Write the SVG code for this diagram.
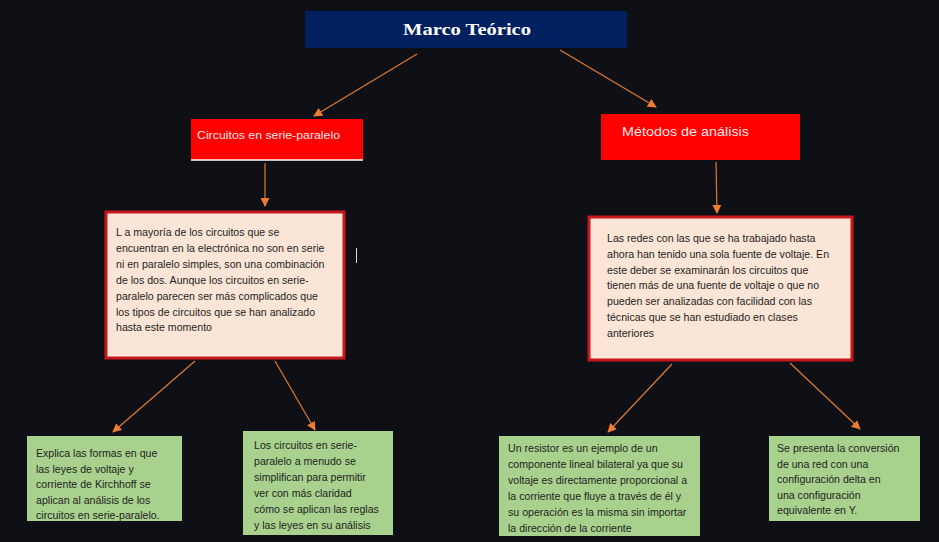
<svg xmlns="http://www.w3.org/2000/svg" width="939" height="542" viewBox="0 0 939 542">
<defs>
<marker id="ah" viewBox="0 0 10 10" refX="9" refY="5" markerWidth="9" markerHeight="9" markerUnits="userSpaceOnUse" orient="auto">
<path d="M0,0 L10,5 L0,10 z" fill="#ed7d31"/>
</marker>
<style>
.conn line{stroke:#e07a30;stroke-width:1.2;marker-end:url(#ah)}
.hdr{fill:#ff0000}
.peach{fill:#fbe5d6;stroke:#c8161d;stroke-width:3}
.green{fill:#a9d18e}
.t{font-family:"Liberation Sans",Arial,sans-serif;font-size:10.6px;fill:#1e1e1e}
.ht{font-family:"Liberation Sans",Arial,sans-serif;fill:#ffe6e6}
</style>
</defs>
<rect width="939" height="542" fill="#0e1016"/>
<g id="title">
<rect x="305" y="11" width="322" height="37" fill="#002060"/>
<text x="467" y="35" text-anchor="middle" font-family="'Liberation Serif',serif" font-weight="bold" font-size="17" fill="#ffffff" textLength="128" lengthAdjust="spacingAndGlyphs">Marco Teórico</text>
</g>
<g id="circuitos">
<rect class="hdr" x="191" y="119" width="172" height="41"/>
<line x1="191" y1="160" x2="363" y2="160" stroke="#ffffff" stroke-width="1.5"/>
<text class="ht" x="197" y="139" font-size="11.5" textLength="143" lengthAdjust="spacingAndGlyphs">Circuitos en serie-paralelo</text>
</g>
<g id="metodos">
<rect class="hdr" x="601" y="114" width="199" height="46"/>
<text class="ht" x="622" y="136" font-size="13.5" textLength="127" lengthAdjust="spacingAndGlyphs">Métodos de análisis</text>
</g>
<g id="desc-left">
<rect class="peach" x="106" y="212" width="238" height="146"/>
<text class="t" x="116" y="236">
<tspan x="116" dy="0">L a mayoría de los circuitos que se</tspan>
<tspan x="116" dy="15.9">encuentran en la electrónica no son en serie</tspan>
<tspan x="116" dy="15.9">ni en paralelo simples, son una combinación</tspan>
<tspan x="116" dy="15.9">de los dos. Aunque los circuitos en serie-</tspan>
<tspan x="116" dy="15.9">paralelo parecen ser más complicados que</tspan>
<tspan x="116" dy="15.9">los tipos de circuitos que se han analizado</tspan>
<tspan x="116" dy="15.9">hasta este momento</tspan>
</text>
</g>
<line x1="356.5" y1="248" x2="356.5" y2="263" stroke="#dddddd" stroke-width="1"/>
<g id="desc-right">
<rect class="peach" x="589" y="217" width="263" height="143"/>
<text class="t" x="607" y="242">
<tspan x="607" dy="0">Las redes con las que se ha trabajado hasta</tspan>
<tspan x="607" dy="15.8">ahora han tenido una sola fuente de voltaje. En</tspan>
<tspan x="607" dy="15.8">este deber se examinarán los circuitos que</tspan>
<tspan x="607" dy="15.8">tienen más de una fuente de voltaje o que no</tspan>
<tspan x="607" dy="15.8">pueden ser analizadas con facilidad con las</tspan>
<tspan x="607" dy="15.8">técnicas que se han estudiado en clases</tspan>
<tspan x="607" dy="15.8">anteriores</tspan>
</text>
</g>
<g id="leaf1">
<rect class="green" x="27" y="436" width="155" height="85"/>
<text class="t" x="36" y="457">
<tspan x="36" dy="0">Explica las formas en que</tspan>
<tspan x="36" dy="15.5">las leyes de voltaje y</tspan>
<tspan x="36" dy="15.5">corriente de Kirchhoff se</tspan>
<tspan x="36" dy="15.5">aplican al análisis de los</tspan>
<tspan x="36" dy="15.5">circuitos en serie-paralelo.</tspan>
</text>
</g>
<g id="leaf2">
<rect class="green" x="243" y="431" width="150" height="104"/>
<text class="t" x="254" y="449">
<tspan x="254" dy="0">Los circuitos en serie-</tspan>
<tspan x="254" dy="16">paralelo a menudo se</tspan>
<tspan x="254" dy="16">simplifican para permitir</tspan>
<tspan x="254" dy="16">ver con más claridad</tspan>
<tspan x="254" dy="16">cómo se aplican las reglas</tspan>
<tspan x="254" dy="16">y las leyes en su análisis</tspan>
</text>
</g>
<g id="leaf3">
<rect class="green" x="499" y="436" width="201" height="100"/>
<text class="t" x="508" y="452">
<tspan x="508" dy="0">Un resistor es un ejemplo de un</tspan>
<tspan x="508" dy="16">componente lineal bilateral ya que su</tspan>
<tspan x="508" dy="16">voltaje es directamente proporcional a</tspan>
<tspan x="508" dy="16">la corriente que fluye a través de él y</tspan>
<tspan x="508" dy="16">su operación es la misma sin importar</tspan>
<tspan x="508" dy="16">la dirección de la corriente</tspan>
</text>
</g>
<g id="leaf4">
<rect class="green" x="769" y="436" width="151" height="85"/>
<text class="t" x="777" y="452">
<tspan x="777" dy="0">Se presenta la conversión</tspan>
<tspan x="777" dy="15.5">de una red con una</tspan>
<tspan x="777" dy="15.5">configuración delta  en</tspan>
<tspan x="777" dy="15.5">una configuración</tspan>
<tspan x="777" dy="15.5">equivalente en Y.</tspan>
</text>
</g>
<g class="conn" id="connectors">
<line x1="417" y1="54" x2="314" y2="116"/>
<line x1="560" y1="50" x2="656" y2="107"/>
<line x1="265" y1="163" x2="265" y2="206"/>
<line x1="716" y1="162" x2="717" y2="213"/>
<line x1="195" y1="361" x2="113" y2="432"/>
<line x1="275" y1="361" x2="315" y2="430"/>
<line x1="672" y1="364" x2="608" y2="432"/>
<line x1="790" y1="363" x2="860" y2="429"/>
</g>
</svg>
